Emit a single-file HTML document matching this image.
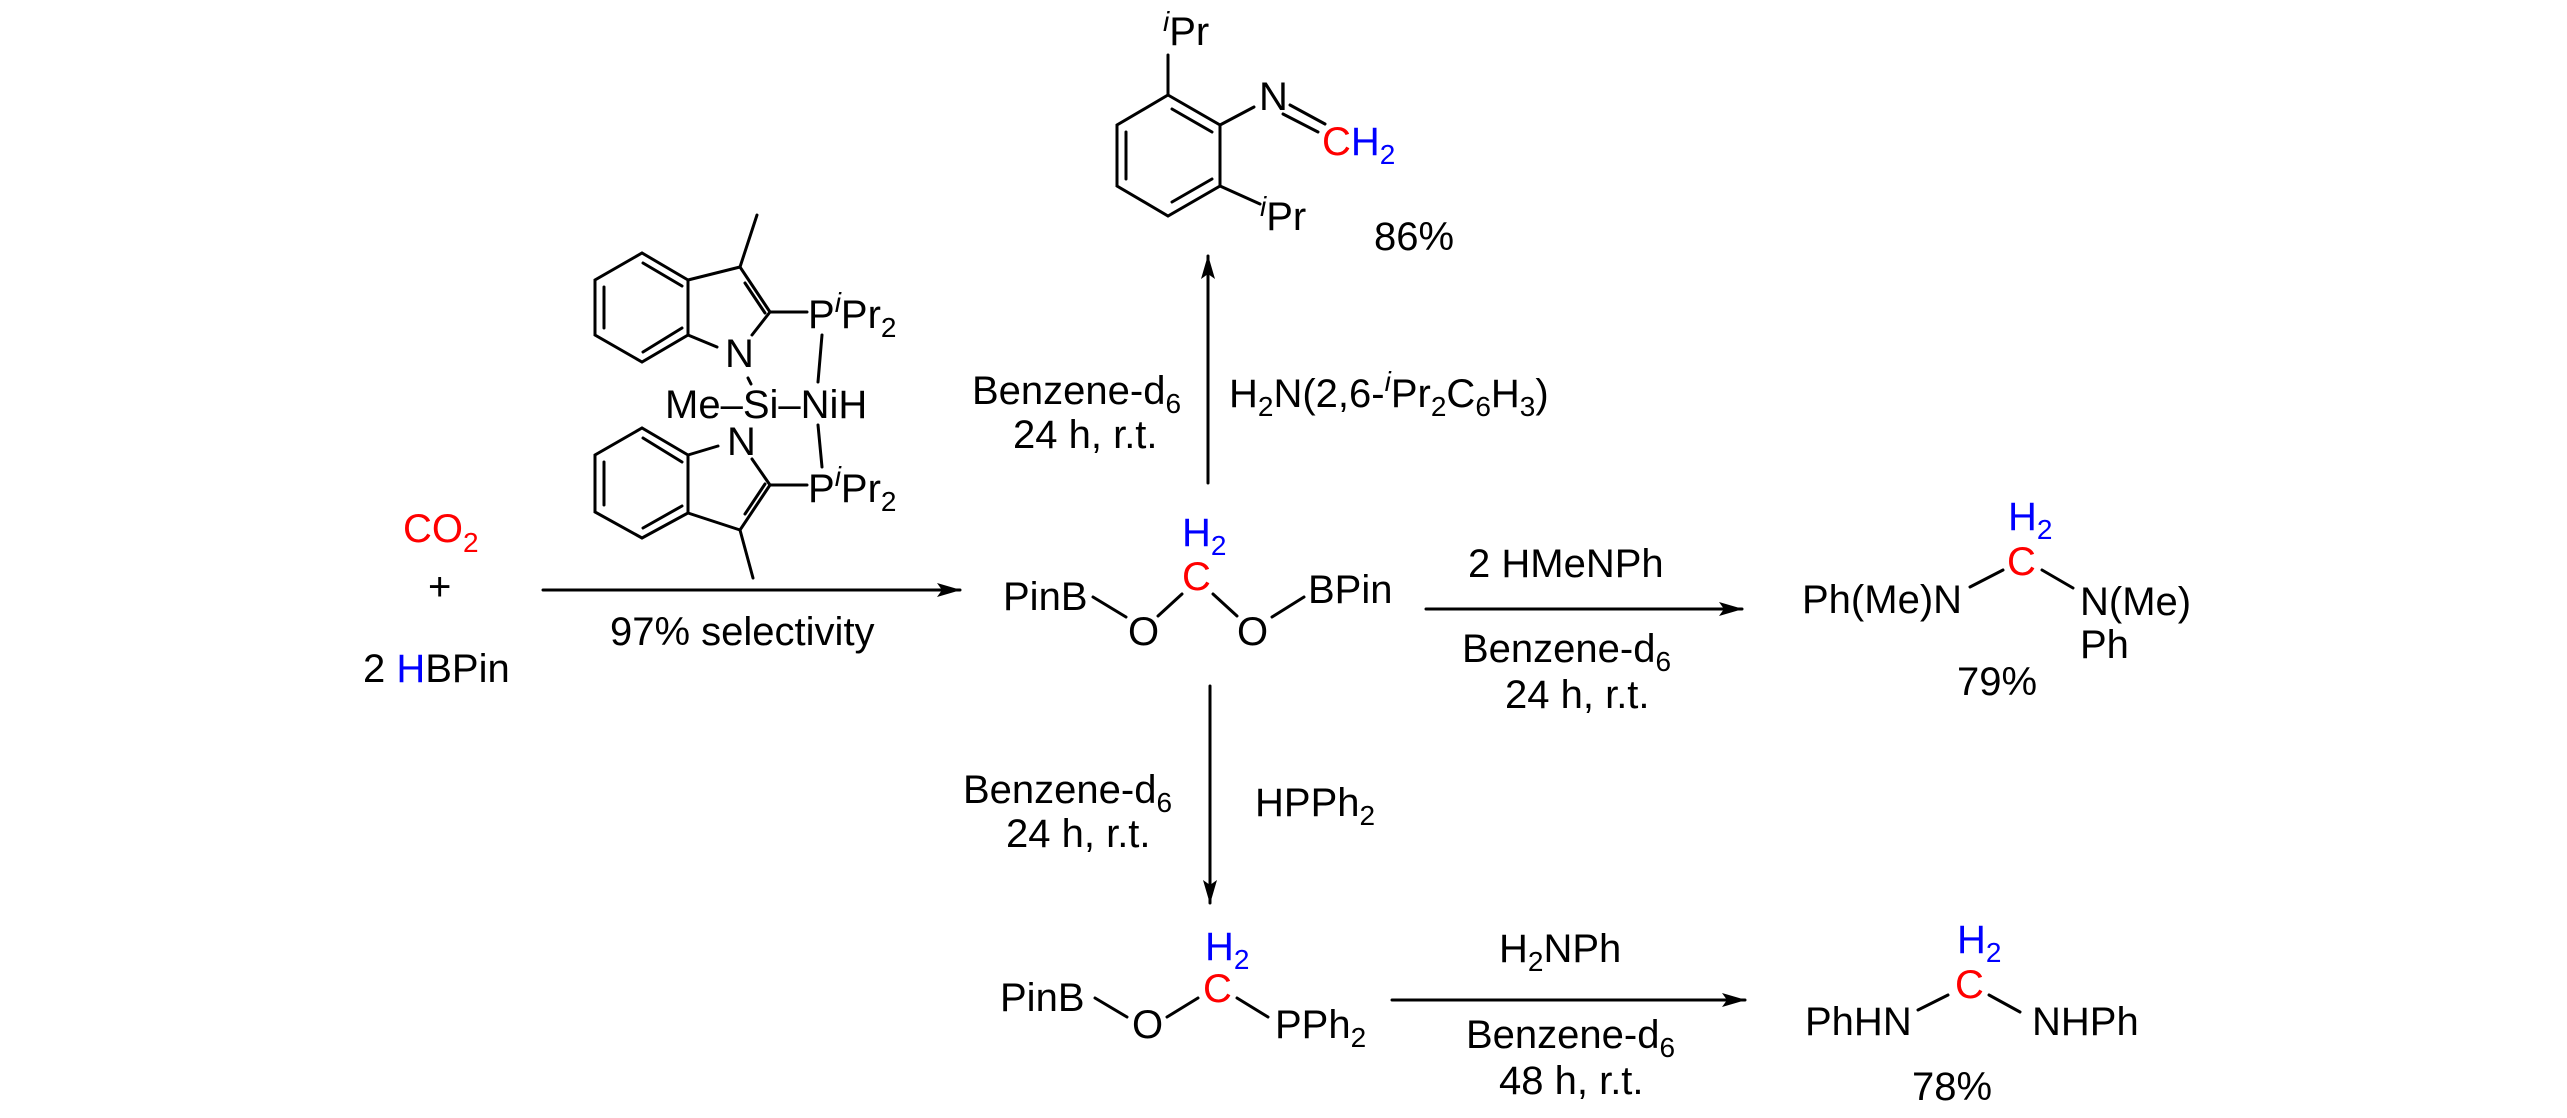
<!DOCTYPE html>
<html><head><meta charset="utf-8"><style>
html,body{margin:0;padding:0;background:#fff;}
svg{display:block;}
text{font-family:"Liberation Sans",Arial,sans-serif;font-size:40px;fill:#000;}
.s{font-size:28px;}
.r{fill:#f00;}
.b{fill:#00f;}
line,polyline,polygon{stroke:#000;stroke-width:3;fill:none;stroke-linecap:round;}
</style></head><body>
<svg width="2567" height="1118" viewBox="0 0 2567 1118" xmlns="http://www.w3.org/2000/svg">
<defs><marker id="ah" markerWidth="10" markerHeight="8" refX="9" refY="4" orient="auto" markerUnits="userSpaceOnUse">
<path d="M0,0 L10,4 L0,8 Z" fill="#000"/></marker>
<marker id="ah2" viewBox="0 0 24 14" markerWidth="24" markerHeight="14" refX="23" refY="7" orient="auto" markerUnits="userSpaceOnUse"><path d="M0,0 L24,7 L0,14 L5,7 Z" fill="#000"/></marker></defs>

<!-- Reactants -->
<text x="403" y="542" class="r">CO<tspan class="s r" dy="10">2</tspan></text>
<text x="428" y="600">+</text>
<text x="363" y="682">2 <tspan class="b">H</tspan>BPin</text>

<!-- main arrow -->
<line x1="543" y1="590" x2="960" y2="590" marker-end="url(#ah2)"/>
<text x="610" y="645">97% selectivity</text>

<!-- Catalyst upper indole -->
<line x1="757" y1="215" x2="740" y2="267"/>
<line x1="740" y1="267" x2="770" y2="312"/>
<line x1="745" y1="283" x2="765" y2="313"/>
<line x1="770" y1="312" x2="752" y2="335"/>
<line x1="717" y1="347" x2="688" y2="335"/>
<line x1="740" y1="267" x2="688" y2="280"/>
<polygon points="688,280 642,253 595,280 595,335 642,362 688,335"/>
<line x1="682" y1="286" x2="643" y2="263"/>
<line x1="604" y1="287" x2="604" y2="328"/>
<line x1="682" y1="328" x2="643" y2="352"/>
<line x1="770" y1="312" x2="807" y2="312"/>
<text x="808" y="328">P<tspan class="s" dy="-16" font-style="italic">i</tspan><tspan dy="16">Pr</tspan><tspan class="s" dy="9">2</tspan></text>
<text x="725" y="367">N</text>
<line x1="822" y1="335" x2="818" y2="382"/>
<line x1="748" y1="378" x2="751" y2="384"/>
<text x="665" y="418">Me–Si–NiH</text>
<line x1="818" y1="425" x2="822" y2="467"/>
<text x="727" y="455">N</text>
<!-- lower indole -->
<line x1="718" y1="446" x2="688" y2="455"/>
<line x1="752" y1="459" x2="770" y2="485"/>
<line x1="770" y1="485" x2="740" y2="530"/>
<line x1="765" y1="484" x2="745" y2="514"/>
<line x1="740" y1="530" x2="688" y2="513"/>
<polygon points="688,455 642,428 595,455 595,512 642,538 688,513"/>
<line x1="682" y1="462" x2="643" y2="438"/>
<line x1="604" y1="462" x2="604" y2="505"/>
<line x1="682" y1="506" x2="643" y2="528"/>
<line x1="740" y1="530" x2="753" y2="578"/>
<line x1="770" y1="485" x2="807" y2="485"/>
<text x="808" y="502">P<tspan class="s" dy="-16" font-style="italic">i</tspan><tspan dy="16">Pr</tspan><tspan class="s" dy="9">2</tspan></text>

<!-- Middle intermediate -->
<text x="1003" y="610">PinB</text>
<line x1="1093" y1="597" x2="1126" y2="617"/>
<text x="1128" y="645">O</text>
<line x1="1158" y1="616" x2="1182" y2="594"/>
<text x="1182" y="590" class="r">C</text>
<text x="1182" y="546" class="b">H<tspan class="s b" dy="9">2</tspan></text>
<line x1="1213" y1="594" x2="1237" y2="616"/>
<text x="1237" y="645">O</text>
<line x1="1272" y1="617" x2="1304" y2="597"/>
<text x="1308" y="603">BPin</text>

<!-- Up arrow -->
<line x1="1208" y1="483" x2="1208" y2="256" marker-end="url(#ah2)"/>
<text x="972" y="404">Benzene-d<tspan class="s" dy="9">6</tspan></text>
<text x="1013" y="448">24 h, r.t.</text>
<text x="1229" y="407">H<tspan class="s" dy="9">2</tspan><tspan dy="-9">N(2,6-</tspan><tspan class="s" dy="-16" font-style="italic">i</tspan><tspan dy="16">Pr</tspan><tspan class="s" dy="9">2</tspan><tspan dy="-9">C</tspan><tspan class="s" dy="9">6</tspan><tspan dy="-9">H</tspan><tspan class="s" dy="9">3</tspan><tspan dy="-9">)</tspan></text>

<!-- Top product -->
<polygon points="1168,95 1220,125 1220,186 1168,216 1117,186 1117,125"/>
<line x1="1212" y1="132" x2="1172" y2="109"/>
<line x1="1212" y1="179" x2="1172" y2="202"/>
<line x1="1126" y1="132" x2="1126" y2="179"/>
<line x1="1168" y1="95" x2="1168" y2="55"/>
<text x="1163" y="45"><tspan class="s" dy="-14" font-style="italic">i</tspan><tspan dy="14">Pr</tspan></text>
<line x1="1220" y1="125" x2="1254" y2="107"/>
<text x="1259" y="110">N</text>
<line x1="1283" y1="114" x2="1318" y2="132"/>
<line x1="1290" y1="105" x2="1325" y2="124"/>
<text x="1322" y="155"><tspan class="r">C</tspan><tspan class="b">H</tspan><tspan class="s b" dy="9">2</tspan></text>
<line x1="1220" y1="186" x2="1260" y2="204"/>
<text x="1260" y="230"><tspan class="s" dy="-14" font-style="italic">i</tspan><tspan dy="14">Pr</tspan></text>
<text x="1374" y="250">86%</text>

<!-- Right arrow -->
<line x1="1426" y1="609" x2="1742" y2="609" marker-end="url(#ah2)"/>
<text x="1468" y="577">2 HMeNPh</text>
<text x="1462" y="662">Benzene-d<tspan class="s" dy="9">6</tspan></text>
<text x="1505" y="708">24 h, r.t.</text>

<!-- Right product -->
<text x="1802" y="613">Ph(Me)N</text>
<line x1="1970" y1="587" x2="2003" y2="570"/>
<text x="2007" y="575" class="r">C</text>
<text x="2008" y="530" class="b">H<tspan class="s b" dy="9">2</tspan></text>
<line x1="2042" y1="570" x2="2073" y2="588"/>
<text x="2080" y="615">N(Me)</text>
<text x="2080" y="658">Ph</text>
<text x="1957" y="695">79%</text>

<!-- Down arrow -->
<line x1="1210" y1="686" x2="1210" y2="903" marker-end="url(#ah2)"/>
<text x="963" y="803">Benzene-d<tspan class="s" dy="9">6</tspan></text>
<text x="1006" y="847">24 h, r.t.</text>
<text x="1255" y="816">HPPh<tspan class="s" dy="9">2</tspan></text>

<!-- Bottom intermediate -->
<text x="1000" y="1011">PinB</text>
<line x1="1095" y1="998" x2="1127" y2="1017"/>
<text x="1132" y="1038">O</text>
<line x1="1167" y1="1017" x2="1198" y2="998"/>
<text x="1203" y="1002" class="r">C</text>
<text x="1205" y="960" class="b">H<tspan class="s b" dy="9">2</tspan></text>
<line x1="1237" y1="998" x2="1268" y2="1017"/>
<text x="1275" y="1038">PPh<tspan class="s" dy="9">2</tspan></text>

<!-- Bottom arrow -->
<line x1="1392" y1="1000" x2="1745" y2="1000" marker-end="url(#ah2)"/>
<text x="1499" y="962">H<tspan class="s" dy="9">2</tspan><tspan dy="-9">NPh</tspan></text>
<text x="1466" y="1048">Benzene-d<tspan class="s" dy="9">6</tspan></text>
<text x="1499" y="1094">48 h,  r.t.</text>

<!-- Bottom product -->
<text x="1805" y="1035">PhHN</text>
<line x1="1918" y1="1010" x2="1948" y2="995"/>
<text x="1955" y="998" class="r">C</text>
<text x="1957" y="953" class="b">H<tspan class="s b" dy="9">2</tspan></text>
<line x1="1989" y1="995" x2="2020" y2="1012"/>
<text x="2032" y="1035">NHPh</text>
<text x="1912" y="1100">78%</text>
</svg>
</body></html>
